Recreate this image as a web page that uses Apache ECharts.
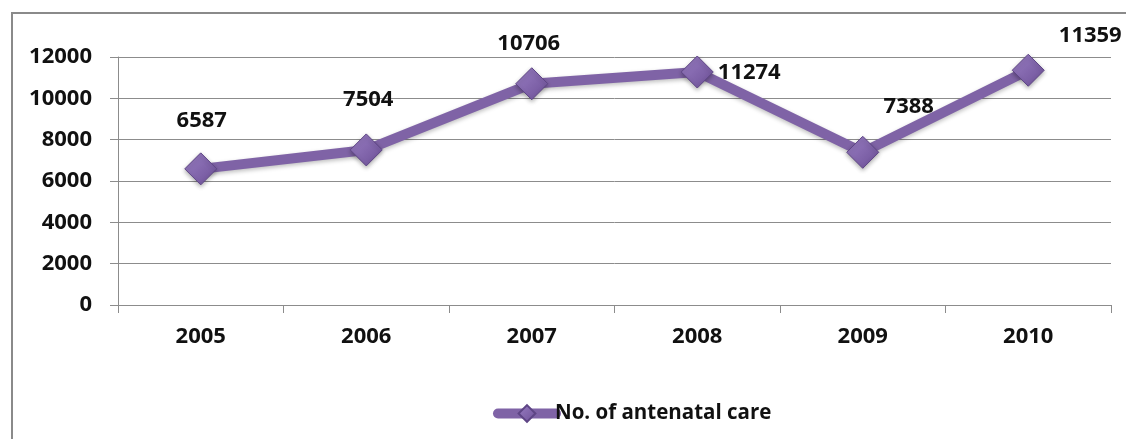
<!DOCTYPE html>
<html>
<head>
<meta charset="utf-8">
<script src="https://cdn.jsdelivr.net/npm/echarts@6/dist/echarts.min.js"></script>
<style>
  html, body { margin: 0; padding: 0; background: #fff; }
  #chart { width: 1126px; height: 439px; }
</style>
</head>
<body>
<div id="chart"></div>
<script>
// Antenatal care visits per year
const years = ['2005', '2006', '2007', '2008', '2009', '2010'];
const antenatalCare = [6587, 7504, 10706, 11274, 7388, 11359];
const yTicks = { min: 0, max: 12000, interval: 2000 };
const seriesName = 'No. of antenatal care';

// Label offsets (px) from each point, relative to the marker centre
const labelOffsets = [[1, -48], [2, -50], [-3, -40], [52, 1], [46, -46], [62, -35]];

const FONT = '"Open Sans", "Liberation Sans", sans-serif';
const PURPLE = '#7f63a6';
const TEXT = { fontFamily: FONT, fontWeight: 'bold', fontSize: 22, color: '#111' };

const chart = echarts.init(document.getElementById('chart'), null, { renderer: 'canvas' });

chart.setOption({
  backgroundColor: '#ffffff',
  animation: false,
  graphic: [{
    type: 'rect',
    shape: { x: 12, y: 13, width: 1200, height: 500 },
    style: { fill: 'none', stroke: '#8a8a8a', lineWidth: 2 },
    silent: true,
    z: -1
  }],
  grid: { left: 118, right: 15, top: 57, bottom: 134 },
  legend: {
    data: [seriesName],
    left: 488,
    top: 398,
    itemWidth: 58,
    itemHeight: 21,
    itemGap: 4,
    lineStyle: { width: 10, cap: 'round', color: PURPLE },
    textStyle: Object.assign({}, TEXT, { fontSize: 20.5, padding: [0, 0, 0, -6] })
  },
  xAxis: {
    type: 'category',
    data: years,
    boundaryGap: true,
    axisLine: { lineStyle: { color: '#8c8c8c', width: 1 } },
    axisTick: { show: true, length: 8, inside: false, lineStyle: { color: '#8c8c8c' } },
    axisLabel: Object.assign({ margin: 21 }, TEXT),
    splitLine: { show: false }
  },
  yAxis: {
    type: 'value',
    min: yTicks.min,
    max: yTicks.max,
    interval: yTicks.interval,
    axisLine: { show: true, lineStyle: { color: '#8c8c8c', width: 1 } },
    axisTick: { show: true, length: 8, lineStyle: { color: '#8c8c8c' } },
    axisLabel: Object.assign({ margin: 26, formatter: v => String(v) }, TEXT),
    splitLine: { show: true, lineStyle: { color: '#8c8c8c', width: 1 } }
  },
  series: [{
    name: seriesName,
    type: 'line',
    data: antenatalCare.map((v, i) => ({
      value: v,
      label: { offset: labelOffsets[i] }
    })),
    symbol: 'diamond',
    symbolSize: 32,
    lineStyle: { color: PURPLE, width: 10, shadowColor: 'rgba(0,0,0,0.25)', shadowBlur: 4, shadowOffsetY: 2 },
    itemStyle: {
      color: new echarts.graphic.LinearGradient(0, 0, 1, 1, [
        { offset: 0, color: '#9a7fc4' },
        { offset: 1, color: '#6c4f96' }
      ]),
      borderColor: '#5e4585',
      borderWidth: 1,
      shadowColor: 'rgba(0,0,0,0.3)',
      shadowBlur: 4,
      shadowOffsetY: 2
    },
    label: Object.assign({ show: true, position: 'inside' }, TEXT),
    z: 3
  }]
});
</script>
</body>
</html>
